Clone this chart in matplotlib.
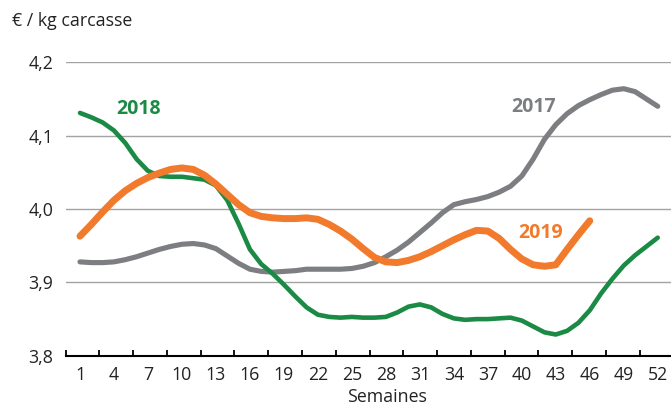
import numpy as np
import matplotlib
matplotlib.use("Agg")
import matplotlib.pyplot as plt

plt.rcParams['font.family'] = ['Open Sans', 'DejaVu Sans']

weeks = list(range(1, 53))
prix_2017 = [3.928, 3.927, 3.927, 3.928, 3.931, 3.935, 3.940, 3.945, 3.949, 3.952,
             3.953, 3.951, 3.946, 3.936, 3.926, 3.918, 3.915, 3.914, 3.915, 3.916,
             3.918, 3.918, 3.918, 3.918, 3.919, 3.922, 3.927, 3.935, 3.944, 3.955,
             3.968, 3.981, 3.995, 4.006, 4.010, 4.013, 4.017, 4.023, 4.031, 4.045,
             4.068, 4.095, 4.115, 4.130, 4.141, 4.149, 4.156, 4.162, 4.164, 4.160,
             4.150, 4.140]
prix_2018 = [4.131, 4.125, 4.118, 4.107, 4.090, 4.068, 4.052, 4.045, 4.044, 4.044,
             4.042, 4.040, 4.032, 4.012, 3.980, 3.945, 3.925, 3.912, 3.897, 3.881,
             3.866, 3.856, 3.853, 3.852, 3.853, 3.852, 3.852, 3.853, 3.859, 3.867,
             3.870, 3.866, 3.857, 3.851, 3.849, 3.850, 3.850, 3.851, 3.852, 3.848,
             3.840, 3.832, 3.829, 3.834, 3.845, 3.862, 3.885, 3.905, 3.923, 3.937,
             3.949, 3.961]
weeks_2019 = list(range(1, 47))
prix_2019 = [3.963, 3.979, 3.996, 4.012, 4.025, 4.035, 4.043, 4.049, 4.054, 4.056,
             4.054, 4.046, 4.034, 4.020, 4.006, 3.995, 3.990, 3.988, 3.987, 3.987,
             3.988, 3.986, 3.979, 3.970, 3.959, 3.946, 3.934, 3.928, 3.927, 3.930,
             3.935, 3.942, 3.950, 3.958, 3.965, 3.971, 3.970, 3.960, 3.945, 3.932,
             3.924, 3.922, 3.924, 3.945, 3.965, 3.984]
xtick_labels = [str(w) for w in range(1, 53, 3)]
ytick_values = [3.8, 3.9, 4.0, 4.1, 4.2]
ytick_labels = ["3,8", "3,9", "4,0", "4,1", "4,2"]

c17 = '#7c7e81'
c18 = '#1b8a45'
c19 = '#f27a2c'

fig = plt.figure(figsize=(6.71, 4.05), dpi=100)
ax = fig.add_axes([0.0979, 0.1215, 0.9021, 0.7247])

ax.plot(weeks, prix_2017, color=c17, lw=3.7, solid_capstyle='round', solid_joinstyle='round', zorder=3, clip_on=False)
ax.plot(weeks, prix_2018, color=c18, lw=3.3, solid_capstyle='round', solid_joinstyle='round', zorder=4, clip_on=False)
ax.plot(weeks_2019, prix_2019, color=c19, lw=5.0, solid_capstyle='round', solid_joinstyle='round', zorder=5, clip_on=False)

x0 = -0.262
ax.set_xlim(x0, 53.17)
ax.set_ylim(3.8, 4.2)

for v in ytick_values[1:]:
    ax.axhline(v, color='#a3a3a3', lw=1.0, zorder=1)

ax.set_yticks(ytick_values)
ax.set_yticklabels(ytick_labels, fontsize=12.8, color='#222222')
ax.tick_params(axis='y', length=0, pad=9)

ax.set_xticks([int(l) for l in xtick_labels])
ax.set_xticklabels(xtick_labels, fontsize=12.8, color='#222222')
ax.tick_params(axis='x', which='major', length=0, pad=7)
ax.set_xticks([x0 + 2.98 * k for k in range(18)], minor=True)
ax.tick_params(axis='x', which='minor', direction='in', length=4, width=1.3, color='black')

for s in ['top', 'right', 'left']:
    ax.spines[s].set_visible(False)
ax.spines['bottom'].set_linewidth(1.5)
ax.spines['bottom'].set_color('black')

ax.text(6.2, 4.137, "2018", color=c18, fontsize=14, fontweight='bold', ha='center', va='center')
ax.text(41.0, 4.139, "2017", color=c17, fontsize=14, fontweight='bold', ha='center', va='center')
ax.text(41.7, 3.967, "2019", color=c19, fontsize=14, fontweight='bold', ha='center', va='center')

fig.text(11.7 / 671, 1 - 20.7 / 405, "€ / kg carcasse", fontsize=12.8, color='#222222', ha='left', va='center')
fig.text(387 / 671, 1 - 401.5 / 405, "Semaines", fontsize=12.8, color='#222222', ha='center', va='baseline')

fig.savefig("out.png", dpi=100)
